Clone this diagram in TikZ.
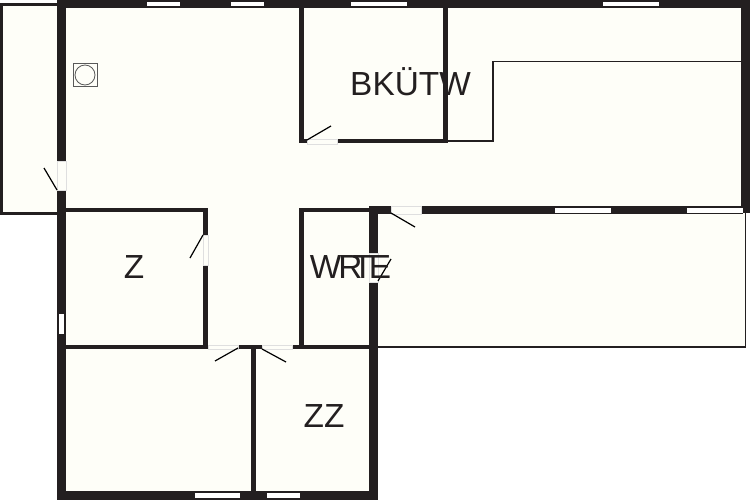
\documentclass[tikz,border=0pt]{standalone}
\usepackage{fontspec}
\setmainfont{Liberation Sans}
\definecolor{floor}{HTML}{FEFEF8}
\definecolor{wallcol}{HTML}{231F20}
\tikzset{
	wall/.style={fill=wallcol,draw=none},
	thinwall/.style={draw=wallcol,line width=0.05cm},
	hairline/.style={draw=wallcol,line width=0.024cm},
	floorpart/.style={fill=floor,draw=none},
	doorgap/.style={fill=floor,draw=gray!25,line width=0.012cm},
	glass/.style={fill=white,draw=none},
	leaf/.style={draw=black,line width=0.024cm},
	fixture/.style={draw=gray!70!black,line width=0.016cm},
	roomlabel/.style={font=\fontsize{19pt}{20pt}\selectfont,text=wallcol,inner sep=0pt,anchor=base},
}
\begin{document}
\begin{tikzpicture}[x=0.02cm,y=-0.02cm]
		\useasboundingbox (0,0) rectangle (750,500);
		% floors
		\path[floorpart] (1,4) rectangle (57,214);
		\path[floorpart] (57,0) rectangle (750,212);
		\path[floorpart] (57,212) rectangle (378,500);
		\path[floorpart] (378,212) rectangle (746,347);
		% annex outlines
		\draw[thinwall] (57,4.5) -- (1.5,4.5) -- (1.5,213.5) -- (57,213.5);
		\draw[thinwall] (378,347) -- (745.5,347);
		\draw[hairline] (745.5,347) -- (745.5,212);
		% outer walls
		\path[wall] (57,0) rectangle (750,8);
		\path[wall] (741,0) rectangle (750,213);
		\path[wall] (57,0) rectangle (66,500);
		\path[wall] (57,491) rectangle (378,500);
		\path[wall] (369,206) rectangle (378,500);
		\path[wall] (369,206) rectangle (743,213.5);
		% inner walls
		\path[wall] (66,208) rectangle (208,212);
		\path[wall] (203,208) rectangle (208,349);
		\path[wall] (66,345) rectangle (369,349);
		\path[wall] (251,349) rectangle (256,491);
		\path[wall] (299,208) rectangle (304,349);
		\path[wall] (299,208) rectangle (369,212);
		\path[wall] (299,8) rectangle (304,143);
		\path[wall] (443,8) rectangle (448,143);
		\path[wall] (299,139) rectangle (448,143);
		% door gaps
		\foreach \xa/\ya/\xb/\yb in {57/161/66/190, 203/235/208/265, 208/345/238/349.5,
			262/345/292/349.5, 307/139/337/144, 369/253/378/282, 391/206/421/214}
			\path[doorgap] (\xa,\ya) rectangle (\xb,\yb);
		% windows
		\foreach \xa/\ya/\xb/\yb in {147/2/180/6.5, 231/2/264/6.5, 351/2/407/6.5, 603/2/659/6.5,
			555/207.5/611/212.5, 687/207.5/743/212.5, 59/314/64/334, 195/493/240/498, 267/493/300/498}
			\path[glass] (\xa,\ya) rectangle (\xb,\yb);
		% door leaves
		\coordinate (d1a) at (57,190);
		\coordinate (d1b) at (44,168);
		\coordinate (d2a) at (203,235);
		\coordinate (d2b) at (190,258);
		\coordinate (d3a) at (238,348);
		\coordinate (d3b) at (215,361);
		\coordinate (d4a) at (262,349);
		\coordinate (d4b) at (286,362);
		\coordinate (d5a) at (307,140);
		\coordinate (d5b) at (331,126);
		\coordinate (d6a) at (378,281);
		\coordinate (d6b) at (391,259);
		\coordinate (d7a) at (391,213);
		\coordinate (d7b) at (415,227);
		\foreach \i in {1,...,7}
			\draw[leaf] (d\i a) -- (d\i b);
		% stair line
		\coordinate (s1) at (448,141);
		\coordinate (s2) at (493,141);
		\coordinate (s3) at (493,61.5);
		\coordinate (s4) at (741,61.5);
		\draw[hairline] (s1) -- (s2) -- (s3) -- (s4);
		% boiler
		\draw[fixture] (73.5,63.5) rectangle (97.5,86);
		\draw[fixture] (85,75) circle (10);
		% labels
		\node[roomlabel] (bkutw) at (410.5,95) {BKÜTW};
		\node[roomlabel] (z) at (134,278) {Z};
		\node[roomlabel] (wrte) at (350.5,278) {W\kern-1.7pt R\kern-5.7pt T\kern-2.3pt E};
		\node[roomlabel] (zz) at (324,427) {ZZ};
	\end{tikzpicture}
\end{document}
